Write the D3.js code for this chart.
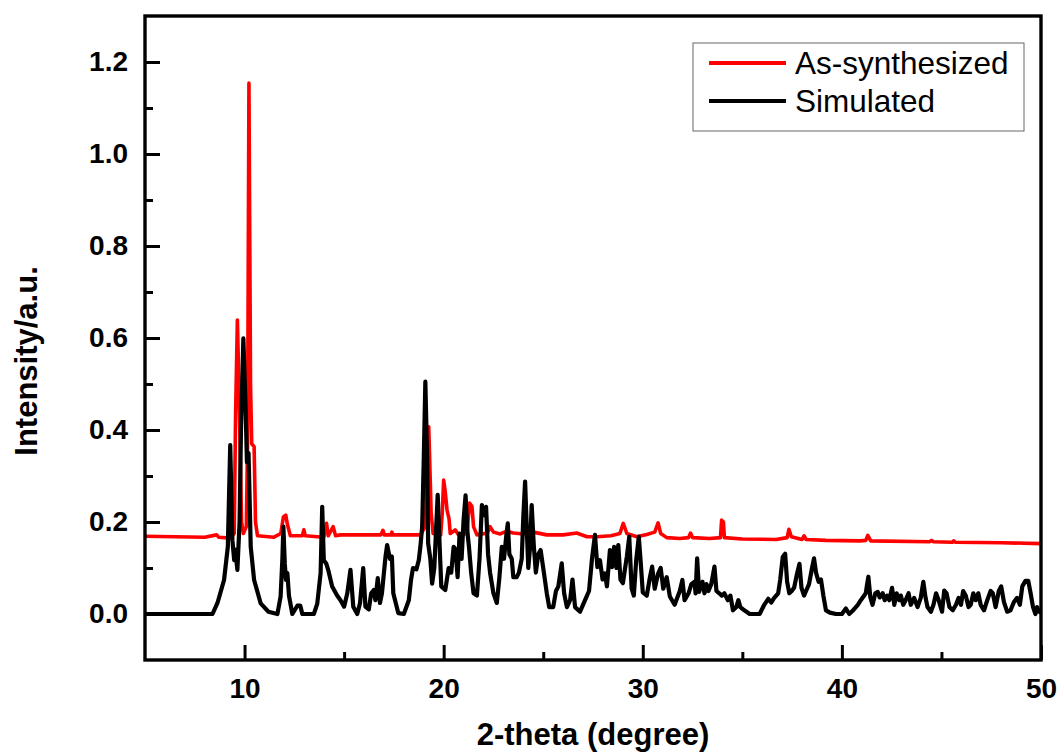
<!DOCTYPE html>
<html>
<head>
<meta charset="utf-8">
<script src="https://cdn.jsdelivr.net/npm/d3@7"></script>
<style>
  body { margin: 0; background: #fff; }
  svg { display: block; }
</style>
</head>
<body>
<div id="chart"></div>
<script>
// simulated pattern (black)
var simX = [5, 8.39, 8.64, 8.97, 9.16, 9.28, 9.39, 9.48, 9.53, 9.64, 9.75, 9.82, 9.94, 10.06, 10.12, 10.2, 10.31, 10.48, 10.81, 11.2,
  11.65, 11.81, 11.9, 11.95, 12.02, 12.08, 12.15, 12.23, 12.4, 12.65, 12.8, 12.9, 13.48, 13.65, 13.82, 13.9, 13.98, 14.1, 14.2, 14.4,
  14.65, 14.82, 15.0, 15.16, 15.32, 15.46, 15.66, 15.8, 15.96, 16.07, 16.24, 16.36, 16.49, 16.57, 16.69, 16.8, 16.9, 17.08, 17.16, 17.3,
  17.4, 17.47, 17.72, 18.0, 18.25, 18.36, 18.46, 18.63, 18.75, 18.83, 18.92, 19.0, 19.08, 19.17, 19.22, 19.33, 19.42, 19.53, 19.7, 19.8,
  19.88, 20.08, 20.25, 20.38, 20.5, 20.6, 20.7, 20.8, 20.9, 21.0, 21.1, 21.2, 21.27, 21.38, 21.5, 21.67, 21.8, 21.92, 22.02, 22.13,
  22.23, 22.33, 22.5, 22.67, 22.8, 22.92, 23.03, 23.14, 23.22, 23.3, 23.42, 23.5, 23.67, 23.78, 23.92, 24.0, 24.09, 24.17, 24.25, 24.34,
  24.42, 24.53, 24.63, 24.75, 24.87, 25.0, 25.18, 25.3, 25.5, 25.64, 25.76, 25.93, 26.05, 26.19, 26.35, 26.47, 26.6, 26.85, 27.15, 27.3,
  27.45, 27.6, 27.72, 27.85, 27.98, 28.1, 28.2, 28.35, 28.46, 28.56, 28.68, 28.77, 28.88, 29.0, 29.2, 29.32, 29.44, 29.55, 29.67, 29.8,
  29.9, 30.0, 30.2, 30.36, 30.47, 30.6, 30.77, 30.9, 31.03, 31.2, 31.36, 31.6, 31.86, 31.99, 32.1, 32.3, 32.44, 32.6, 32.65, 32.73,
  32.83, 33.0, 33.1, 33.2, 33.3, 33.44, 33.6, 33.7, 33.84, 33.97, 34.1, 34.27, 34.4, 34.53, 34.7, 34.8, 34.9, 35.1, 35.37, 35.87,
  36.1, 36.3, 36.45, 36.6, 36.8, 36.9, 37.03, 37.15, 37.25, 37.36, 37.48, 37.6, 37.73, 37.87, 37.97, 38.1, 38.2, 38.35, 38.5, 38.6,
  38.7, 38.83, 38.95, 39.07, 39.2, 39.4, 39.7, 40.0, 40.2, 40.37, 40.54, 40.8, 40.95, 41.2, 41.25, 41.33, 41.43, 41.54, 41.68, 41.8,
  41.9, 42.05, 42.15, 42.27, 42.38, 42.52, 42.63, 42.75, 42.88, 42.96, 43.08, 43.2, 43.35, 43.46, 43.63, 43.8, 43.96, 44.09, 44.2, 44.3,
  44.47, 44.6, 44.73, 44.86, 45.03, 45.14, 45.26, 45.4, 45.57, 45.73, 45.86, 45.98, 46.09, 46.22, 46.36, 46.47, 46.6, 46.72, 46.85, 46.97,
  47.14, 47.3, 47.47, 47.58, 47.72, 47.88, 48.0, 48.14, 48.3, 48.47, 48.64, 48.8, 48.94, 49.06, 49.22, 49.36, 49.48, 49.6, 49.72, 49.8,
  49.9, 50];
var simY = [0, 0, .024, .074, .146, .367, .16, .117, .14, .096, .2, .4, .599, .436, .33, .35, .146, .074, .023, .005,
  0, .038, .12, .19, .11, .074, .089, .04, 0, .018, .018, 0, 0, .022, .089, .233, .117, .11, .096, .06,
  .04, .03, .016, .045, .096, .016, 0, .024, .1, .016, .01, .045, .052, .03, .078, .024, .045, .125, .15, .12,
  .125, .045, .002, 0, .03, .074, .1, .097, .117, .146, .19, .335, .505, .335, .154, .12, .066, .1, .259, .146,
  .06, .052, .1, .09, .146, .14, .08, .175, .12, .204, .258, .175, .146, .09, .045, .04, .12, .237, .215, .233,
  .13, .09, .045, .024, .08, .146, .12, .168, .197, .13, .12, .08, .08, .09, .12, .211, .288, .19, .1, .146,
  .237, .146, .09, .13, .139, .1, .045, .015, .015, .05, .06, .11, .045, .015, .03, .075, .015, .005, .035, .05,
  .12, .172, .102, .117, .075, .088, .06, .139, .102, .146, .1, .15, .075, .067, .125, .168, .055, .04, .117, .168,
  .11, .047, .04, .08, .103, .055, .088, .1, .055, .08, .038, .02, .05, .074, .03, .045, .065, .07, .045, .121,
  .048, .07, .045, .065, .05, .065, .103, .05, .045, .04, .045, .03, .04, .008, .015, .03, .015, .008, 0, 0,
  .02, .033, .025, .035, .045, .074, .124, .131, .07, .045, .05, .057, .084, .109, .057, .04, .05, .065, .1, .121,
  .09, .07, .075, .04, .008, .003, 0, 0, .012, 0, .007, .02, .03, .045, .06, .081, .036, .02, .045, .048,
  .036, .045, .03, .04, .03, .057, .02, .045, .03, .04, .02, .03, .045, .02, .035, .015, .035, .07, .036, .015,
  .005, .02, .045, .03, .005, .051, .045, .015, .008, .02, .035, .02, .05, .04, .015, .02, .045, .03, .045, .02,
  .008, .03, .05, .045, .015, .05, .06, .026, .005, .008, .026, .035, .02, .06, .072, .072, .045, .015, 0, .015,
  .005, .003];

// as-synthesized pattern (red)
var expX = [5, 6.5, 8.0, 8.6, 8.7, 9.3, 9.48, 9.55, 9.64, 9.72, 9.85, 9.94, 10.09, 10.15, 10.22, 10.3, 10.36, 10.48, 10.55, 10.65,
  11.48, 11.82, 11.95, 12.07, 12.15, 12.3, 12.9, 12.98, 13.05, 13.98, 14.12, 14.2, 14.45, 14.57, 14.82, 16.85, 16.95, 17.02, 17.35, 17.4,
  17.45, 18.83, 19.08, 19.18, 19.25, 19.32, 19.37, 19.47, 19.85, 19.93, 20.0, 20.08, 20.17, 20.27, 20.33, 20.5, 20.58, 20.75, 21.17, 21.3,
  21.42, 21.5, 21.67, 22.2, 22.33, 22.5, 22.84, 23.17, 23.5, 24.0, 24.5, 25.18, 26.0, 26.68, 27.2, 27.7, 28.4, 28.85, 29.02, 29.2,
  29.7, 30.2, 30.6, 30.7, 30.77, 30.9, 31.2, 31.86, 32.3, 32.4, 32.5, 33.36, 33.9, 33.96, 34.05, 34.1, 35.0, 36.7, 37.25, 37.34,
  37.46, 38.0, 38.1, 38.2, 39.2, 40.9, 41.2, 41.3, 41.45, 44.4, 44.5, 44.6, 45.55, 45.62, 45.7, 48, 50];
var expY = [.169, .168, .167, .172, .167, .165, .175, .436, .639, .49, .2, .175, .19, .37, 1.154, .5, .37, .364, .2, .17,
  .167, .175, .211, .215, .195, .17, .17, .183, .17, .167, .197, .17, .19, .17, .172, .172, .182, .172, .172, .178,
  .172, .172, .19, .33, .407, .3, .22, .175, .172, .22, .291, .265, .226, .207, .175, .18, .183, .172, .175, .241,
  .234, .19, .172, .176, .19, .178, .174, .18, .176, .174, .178, .172, .172, .176, .168, .168, .17, .175, .197, .175,
  .168, .173, .178, .19, .198, .175, .166, .164, .166, .176, .166, .164, .166, .204, .2, .166, .163, .162, .166, .184,
  .168, .162, .17, .162, .16, .159, .16, .171, .159, .157, .16, .157, .156, .159, .156, .155, .153];

var xTicks = [10, 20, 30, 40, 50];
var xMinor = [15, 25, 35, 45];
var yTicks = [0, 0.2, 0.4, 0.6, 0.8, 1.0, 1.2];
var yMinor = [0.1, 0.3, 0.5, 0.7, 0.9, 1.1];
var seriesNames = ["As-synthesized", "Simulated"];
var seriesColors = ["#ff0000", "#000000"];

var W = 1063, H = 752;
var padL = 145, padR = 1041, padT = 16, padB = 660;
var font = "'Liberation Sans', Arial, sans-serif";

var svg = d3.select("#chart").append("svg")
  .attr("width", W)
  .attr("height", H);

var x = d3.scaleLinear().domain([5, 50]).range([padL, padR]);
var y = d3.scaleLinear().domain([-0.1, 1.3]).range([padB, padT]);

var line = d3.line()
  .x(function(d) { return x(d[0]); })
  .y(function(d) { return y(d[1]); });

svg.append("clipPath").attr("id", "clip")
  .append("rect").attr("x", padL).attr("y", padT)
  .attr("width", padR - padL).attr("height", padB - padT);

var expData = expX.map(function(v, i) { return [v, expY[i]]; });
var simData = simX.map(function(v, i) { return [v, simY[i]]; });

svg.append("path")
  .datum(expData)
  .attr("clip-path", "url(#clip)")
  .attr("fill", "none")
  .attr("stroke", seriesColors[0])
  .attr("stroke-width", 3.6)
  .attr("stroke-linejoin", "round")
  .attr("d", line);

svg.append("path")
  .datum(simData)
  .attr("clip-path", "url(#clip)")
  .attr("fill", "none")
  .attr("stroke", seriesColors[1])
  .attr("stroke-width", 4.2)
  .attr("stroke-linejoin", "round")
  .attr("d", line);

// axes, ticks point inward
var xAxis = svg.append("g")
  .attr("transform", "translate(0," + padB + ")")
  .call(d3.axisBottom(x).tickValues(xTicks).tickFormat(d3.format("d"))
    .tickSizeInner(-15).tickSizeOuter(0).tickPadding(18));
var xAxisMinor = svg.append("g")
  .attr("transform", "translate(0," + padB + ")")
  .call(d3.axisBottom(x).tickValues(xMinor).tickFormat("")
    .tickSizeInner(-8).tickSizeOuter(0));
var yAxis = svg.append("g")
  .attr("transform", "translate(" + padL + ",0)")
  .call(d3.axisLeft(y).tickValues(yTicks).tickFormat(d3.format(".1f"))
    .tickSizeInner(-15).tickSizeOuter(0).tickPadding(17));
var yAxisMinor = svg.append("g")
  .attr("transform", "translate(" + padL + ",0)")
  .call(d3.axisLeft(y).tickValues(yMinor).tickFormat("")
    .tickSizeInner(-8).tickSizeOuter(0));

[xAxis, xAxisMinor, yAxis, yAxisMinor].forEach(function(g) {
  g.select(".domain").remove();
  g.selectAll(".tick line").attr("stroke", "#000").attr("stroke-width", 3);
  g.selectAll(".tick text")
    .attr("fill", "#000")
    .style("font-family", font)
    .style("font-weight", "bold")
    .style("font-size", "28px");
});

// frame
svg.append("rect")
  .attr("x", padL).attr("y", padT)
  .attr("width", padR - padL).attr("height", padB - padT)
  .attr("fill", "none")
  .attr("stroke", "#000")
  .attr("stroke-width", 3.4);

svg.append("text")
  .attr("x", (padL + padR) / 2)
  .attr("y", 745)
  .attr("text-anchor", "middle")
  .style("font-family", font)
  .style("font-weight", "bold")
  .style("font-size", "31px")
  .text("2-theta (degree)");

svg.append("text")
  .attr("transform", "translate(37,361) rotate(-90)")
  .attr("text-anchor", "middle")
  .style("font-family", font)
  .style("font-weight", "bold")
  .style("font-size", "31px")
  .text("Intensity/a.u.");

// legend
var legend = svg.append("g");
legend.append("rect")
  .attr("x", 693).attr("y", 43)
  .attr("width", 331).attr("height", 88)
  .attr("fill", "#fff")
  .attr("stroke", "#666")
  .attr("stroke-width", 1);

seriesNames.forEach(function(name, i) {
  var ly = 63 + i * 38;
  legend.append("line")
    .attr("x1", 709).attr("x2", 786)
    .attr("y1", ly).attr("y2", ly)
    .attr("stroke", seriesColors[i])
    .attr("stroke-width", 4);
  legend.append("text")
    .attr("x", 795)
    .attr("y", ly + 11)
    .style("font-family", font)
    .style("font-size", "31.5px")
    .attr("fill", "#000")
    .text(name);
});
</script>
</body>
</html>
